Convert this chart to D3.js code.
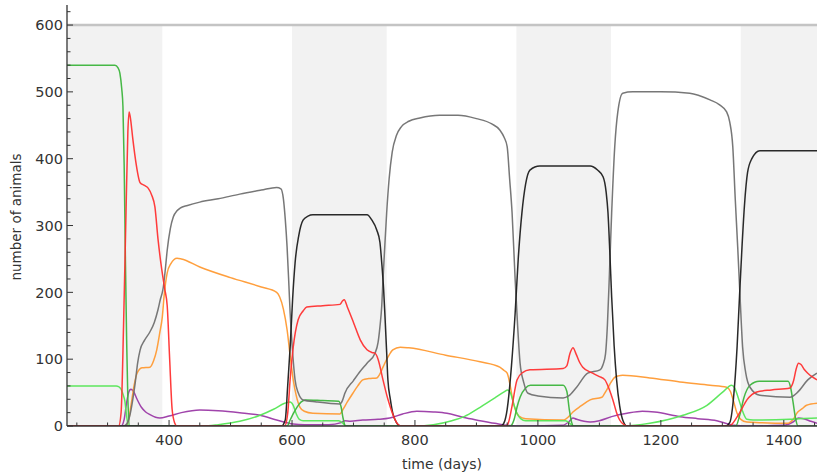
<!DOCTYPE html>
<html><head><meta charset="utf-8">
<script src="https://cdn.jsdelivr.net/npm/d3@7"></script>
<style>
html,body{margin:0;padding:0;background:#fff;}
svg{display:block;}
text{font-family:"DejaVu Sans",sans-serif;fill:#333;}
</style></head>
<body>
<div id="chart"></div>
<script>
// ---- data: [day, number of animals] ----
const xTickLabels = [400, 600, 800, 1000, 1200, 1400];
const yTickLabels = [0, 100, 200, 300, 400, 500, 600];
const shadedSeasons = [[235, 389], [600, 754], [965, 1119], [1330, 1484]];
const capacity = 600;

const greenDark = [[234,540],[312,540],[317,536],[320,528],[323,505],[325,478],[327,390],[329,250],[331,130],[333,40],[336,0],
  [592,0],[597,9],[603,20],[608,28],[615,36],[622,39],[650,38],[676,37],[680,28],[683,12],[687,0],
  [955,0],[962,12],[966,28],[971,43],[980,57],[988,61],[1041,61],[1047,52],[1051,25],[1055,5],[1058,0],
  [1322,0],[1328,15],[1335,42],[1345,61],[1360,67],[1407,67],[1411,58],[1415,36],[1419,12],[1423,0],[1454,0]];

const greenBright = [[234,60],[314,60],[318,59],[322,55],[326,45],[328,38],[331,15],[334,0],
  [455,0],[480,2],[515,7],[548,16],[570,25],[588,34],[597,36],[602,31],[607,18],[612,10],[618,8],[676,8],[683,4],[688,0],
  [800,0],[830,2],[860,8],[880,14],[906,28],[930,42],[945,51],[951,54],[956,48],[961,32],[966,19],[972,11],[980,8],[1045,8],[1052,4],[1057,0],
  [1140,0],[1182,4],[1236,16],[1275,31],[1301,51],[1315,61],[1320,57],[1326,42],[1333,22],[1340,10],[1350,9],[1410,10],[1425,11],[1454,12]];

const red = [[234,0],[318,0],[322,20],[326,150],[330,320],[333,440],[335,470],[337,462],[341,430],[346,395],[353,364],[360,360],[366,356],[372,345],[377,328],[382,280],[388,235],[393,205],[397,180],[401,100],[405,25],[409,5],[413,0],
  [588,0],[593,19],[597,70],[602,118],[610,159],[618,172],[624,178],[650,180],[678,182],[682,187],[685,189],[690,178],[700,155],[711,129],[722,114],[730,110],[735,109],[740,100],[748,69],[756,40],[763,20],[771,4],[777,0],
  [948,0],[952,5],[958,30],[966,69],[975,80],[987,84],[1041,86],[1047,90],[1052,108],[1057,117],[1062,108],[1068,95],[1073,88],[1089,79],[1100,74],[1109,69],[1116,55],[1122,39],[1128,20],[1133,9],[1140,2],[1145,0],
  [1312,0],[1317,4],[1325,15],[1333,28],[1340,39],[1348,47],[1356,51],[1380,54],[1410,57],[1416,68],[1420,85],[1424,94],[1428,92],[1433,85],[1439,79],[1447,73],[1454,69]];

const black = [[234,0],[583,0],[589,9],[593,60],[597,118],[601,190],[605,244],[611,285],[618,308],[626,314],[634,316],[722,316],[730,308],[738,293],[743,275],[746,244],[749,205],[751,169],[754,110],[756,69],[760,40],[764,19],[770,5],[776,0],
  [940,0],[945,5],[950,25],[957,90],[963,169],[968,250],[974,319],[980,362],[987,383],[1003,389],[1085,389],[1097,383],[1106,373],[1111,350],[1114,319],[1117,260],[1120,193],[1124,120],[1128,69],[1133,30],[1138,9],[1145,0],
  [1305,0],[1312,5],[1318,40],[1324,118],[1328,195],[1332,268],[1336,330],[1341,379],[1348,400],[1361,412],[1454,412]];

const gray = [[234,0],[326,0],[331,3],[336,15],[340,34],[345,65],[349,95],[353,114],[360,128],[369,141],[376,155],[382,174],[386,190],[390,204],[394,235],[397,263],[402,295],[407,313],[413,322],[418,326],[430,330],[450,335],[480,340],[515,347],[550,353],[575,357],[582,355],[586,340],[589,310],[592,268],[595,210],[597,169],[601,110],[605,69],[610,50],[618,39],[640,36],[678,33],[682,38],[686,49],[700,68],[711,82],[722,94],[735,109],[740,125],[743,148],[746,180],[748,219],[751,270],[754,319],[758,370],[763,410],[770,435],[778,448],[790,456],[808,461],[840,465],[870,465],[900,460],[925,452],[938,443],[945,432],[950,418],[954,370],[958,319],[963,219],[967,150],[971,94],[977,65],[984,49],[1000,45],[1041,42],[1050,45],[1063,58],[1081,79],[1101,84],[1106,92],[1110,108],[1113,150],[1116,219],[1120,319],[1125,418],[1130,470],[1138,498],[1154,500],[1200,500],[1247,498],[1280,488],[1295,481],[1307,470],[1312,455],[1317,418],[1321,340],[1325,268],[1329,190],[1333,118],[1338,80],[1345,58],[1361,46],[1410,43],[1423,51],[1439,69],[1454,79]];

const orange = [[234,0],[330,0],[334,8],[338,30],[343,60],[348,79],[356,87],[369,88],[375,98],[380,114],[385,140],[389,163],[392,195],[397,229],[403,243],[413,251],[420,250],[450,238],[500,222],[550,208],[575,200],[580,193],[586,175],[592,144],[597,105],[602,69],[607,45],[613,28],[620,22],[634,19],[678,18],[683,25],[690,36],[699,49],[707,60],[715,69],[725,71],[738,72],[743,78],[748,88],[756,103],[764,114],[776,118],[790,117],[850,106],[906,96],[938,88],[945,83],[950,79],[955,60],[959,39],[963,25],[969,15],[980,11],[1041,9],[1050,14],[1057,21],[1070,30],[1085,39],[1104,43],[1108,48],[1112,54],[1118,64],[1124,72],[1131,75],[1138,76],[1182,72],[1231,66],[1280,61],[1307,58],[1313,52],[1318,38],[1324,19],[1330,10],[1340,6],[1360,5],[1407,4],[1412,7],[1417,12],[1421,19],[1430,26],[1437,31],[1454,34]];

const purple = [[234,0],[322,0],[327,10],[331,35],[335,52],[338,55],[342,52],[348,40],[355,28],[362,21],[369,17],[378,13],[385,12],[400,15],[420,20],[450,24],[480,23],[515,20],[548,16],[575,9],[602,3],[620,2],[660,2],[680,5],[686,8],[695,7],[715,9],[740,10],[759,12],[780,18],[803,22],[830,21],[852,19],[878,13],[906,8],[930,4],[950,1],[980,0],[1040,1],[1050,6],[1057,12],[1063,10],[1075,7],[1085,6],[1100,8],[1120,14],[1145,19],[1170,22],[1190,21],[1231,14],[1260,11],[1291,8],[1310,3],[1320,1],[1340,0],[1400,1],[1415,6],[1424,12],[1432,11],[1444,7],[1454,4]];

const seriesList = [
  {data: purple, color: "#9b3aa6"},
  {data: orange, color: "#ff9a33"},
  {data: greenBright, color: "#55e655"},
  {data: greenDark, color: "#3cb43c"},
  {data: gray, color: "#707070"},
  {data: black, color: "#1e1e1e"},
  {data: red, color: "#ff3030"}
];

// ---- layout ----
const W = 817, H = 474;
const mLeft = 67, mRight = 817, mTop = 5, mBottom = 426;

const x = d3.scaleLinear().domain([234, 1454]).range([mLeft, mRight]);
const y = d3.scaleLinear().domain([0, 630]).range([mBottom, mTop]);

const svg = d3.select("#chart").append("svg").attr("width", W).attr("height", H);

svg.append("defs").append("clipPath").attr("id", "clip")
  .append("rect").attr("x", mLeft).attr("y", mTop).attr("width", mRight - mLeft).attr("height", mBottom - mTop);

const plot = svg.append("g").attr("clip-path", "url(#clip)");

plot.selectAll("rect.season").data(shadedSeasons).join("rect")
  .attr("class", "season")
  .attr("x", d => x(d[0])).attr("width", d => x(d[1]) - x(d[0]))
  .attr("y", y(capacity)).attr("height", y(0) - y(capacity))
  .attr("fill", "#f2f2f2");

plot.append("line")
  .attr("x1", mLeft).attr("x2", mRight).attr("y1", y(capacity)).attr("y2", y(capacity))
  .attr("stroke", "#c4c4c4").attr("stroke-width", 2.5);

const line = d3.line().x(d => x(d[0])).y(d => y(d[1])).curve(d3.curveMonotoneX);

plot.selectAll("path.series").data(seriesList).join("path")
  .attr("class", "series")
  .attr("d", s => line(s.data))
  .attr("fill", "none").attr("stroke", s => s.color)
  .attr("stroke-width", 1.5).attr("stroke-linejoin", "round").attr("opacity", 0.95);

// ---- axes ----
const axisColor = "#333";
const xMinor = d3.range(250, 1455, 50);
const xAxis = svg.append("g").attr("transform", `translate(0,${mBottom})`);
xAxis.append("line").attr("x1", mLeft).attr("x2", mRight).attr("stroke", axisColor).attr("stroke-width", 1.3);
xAxis.selectAll("line.tick").data(xMinor).join("line")
  .attr("class", "tick")
  .attr("x1", d => x(d)).attr("x2", d => x(d))
  .attr("y1", 0).attr("y2", d => d % 200 === 0 ? -6 : -3.5)
  .attr("stroke", axisColor).attr("stroke-width", 1);
xAxis.selectAll("text").data(xTickLabels).join("text")
  .attr("x", d => x(d)).attr("y", 19)
  .attr("text-anchor", "middle").attr("font-size", 14.5)
  .text(d => d);

const yMinor = d3.range(0, 631, 20);
const yAxis = svg.append("g").attr("transform", `translate(${mLeft},0)`);
yAxis.append("line").attr("y1", mTop).attr("y2", mBottom).attr("stroke", axisColor).attr("stroke-width", 1.3);
yAxis.selectAll("line.tick").data(yMinor).join("line")
  .attr("class", "tick")
  .attr("y1", d => y(d)).attr("y2", d => y(d))
  .attr("x1", 0).attr("x2", d => d % 100 === 0 ? 6 : 3.5)
  .attr("stroke", axisColor).attr("stroke-width", 1);
yAxis.selectAll("text").data(yTickLabels).join("text")
  .attr("x", -4).attr("y", d => y(d)).attr("dy", "0.36em")
  .attr("text-anchor", "end").attr("font-size", 14.5)
  .text(d => d);

svg.append("text")
  .attr("x", (mLeft + mRight) / 2).attr("y", 469)
  .attr("text-anchor", "middle").attr("font-size", 14)
  .text("time (days)");

svg.append("text")
  .attr("transform", "translate(21,217) rotate(-90)")
  .attr("text-anchor", "middle").attr("font-size", 13.5)
  .text("number of animals");
</script>
</body></html>
